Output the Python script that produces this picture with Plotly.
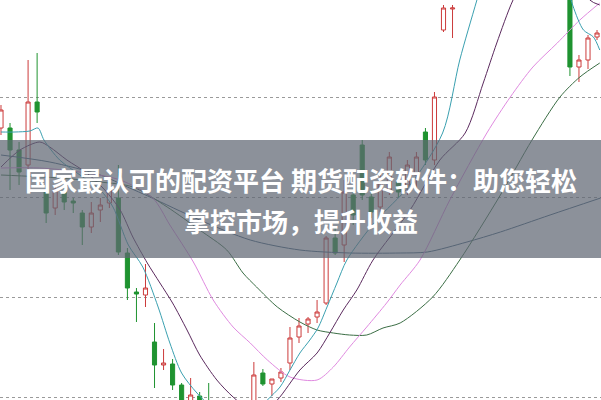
import plotly.graph_objects as go

# ---- candle data (index, open, high, low, close) ----
idx = list(range(67))
opens = [56.9, 56.9, 54.7, 53.2, 59.5, 50.5, 48.9, 50.5, 49.6, 48.4,
         47.0, 48.7, 49.4, 49.9, 44.4, 40.5, 40.2, 35.5, 33.2, 33.3,
         31.2, 27.7, 30.1, 28.7, 26.2, 27.7, 25.7, 26.7, 27.7, 32.4,
         31.3, 31.9, 33.4, 36.0, 37.3, 38.0, 39.4, 45.9, 45.2, 50.2,
         55.2, 50.0, 49.0, 50.7, 51.5, 51.2, 52.2, 56.5, 53.7, 66.7,
         68.8, 70.5, 71.5, 73.5, 75.0, 73.0, 76.5, 78.5, 77.0, 80.5,
         82.0, 80.0, 78.0, 75.0, 63.0, 63.7, 66.0]
highs = [59.2, 57.4, 55.5, 63.7, 64.4, 50.9, 51.2, 51.2, 49.9, 48.7,
         49.5, 49.9, 51.4, 53.2, 44.9, 40.9, 43.3, 37.4, 34.8, 33.8,
         31.4, 31.9, 30.5, 31.4, 28.2, 28.5, 27.9, 28.7, 33.5, 32.8,
         31.8, 32.9, 37.0, 37.9, 38.0, 39.7, 46.1, 46.9, 51.7, 51.2,
         55.7, 50.7, 52.2, 54.5, 51.9, 53.7, 54.5, 56.9, 60.5, 69.2,
         69.2, 72.0, 74.0, 76.0, 76.0, 77.0, 79.0, 80.0, 81.0, 83.0,
         83.5, 82.0, 79.5, 76.0, 64.2, 66.2, 66.7]
lows = [56.2, 50.7, 51.2, 52.7, 57.4, 47.4, 48.2, 48.7, 48.4, 45.2,
        46.4, 47.5, 48.9, 44.2, 39.7, 37.5, 39.0, 30.9, 32.7, 30.7,
        27.2, 27.2, 26.7, 25.7, 25.2, 24.7, 24.9, 26.1, 27.2, 31.1,
        30.1, 31.5, 32.7, 35.4, 36.4, 37.4, 39.2, 44.2, 43.5, 47.2,
        49.7, 47.9, 48.5, 50.2, 49.9, 50.2, 50.5, 53.2, 53.2, 66.5,
        65.9, 69.9, 71.0, 72.8, 72.5, 72.5, 75.8, 76.0, 76.5, 79.5,
        79.0, 77.0, 75.0, 62.1, 61.5, 62.8, 65.7]
closes = [58.7, 54.7, 52.5, 59.5, 58.5, 48.4, 50.7, 49.5, 49.4, 47.0,
          48.4, 49.2, 50.7, 44.5, 40.9, 40.3, 40.9, 33.2, 33.4, 31.2,
          28.2, 30.2, 27.7, 26.7, 27.7, 25.7, 27.2, 28.2, 32.2, 31.3,
          31.8, 32.5, 35.9, 37.1, 37.8, 38.5, 45.9, 44.4, 50.5, 48.2,
          50.2, 48.5, 51.4, 54.0, 50.5, 53.2, 54.0, 53.7, 60.0, 68.9,
          68.9, 71.5, 73.5, 75.0, 73.0, 76.5, 78.5, 77.0, 80.5, 82.0,
          80.0, 78.0, 76.0, 63.0, 63.7, 65.9, 66.4]

# ---- moving-average lines ----
ma5_x = [0, 1.55, 3.2, 4.1, 4.76, 6.5, 8.75, 11, 12.4, 14.1, 15.7, 17.4, 18.7, 20, 21.7,
         23.7, 25.9, 28.1, 29.5, 30.9, 32, 33.1, 34.2, 35.1, 36.1, 37.2, 38.3, 41.4,
         45.3, 48.9, 50.8, 52.7, 55.3, 58.6, 61.4, 63.3, 64.5, 65.6, 66.3]
ma5_y = [56.5, 56.5, 56.6, 56.9, 55.7, 53.7, 52.2, 50.7, 49.0, 45.2, 43.0, 39.0, 35.4, 32.4, 30.4,
         28.7, 27.7, 28.2, 29.7, 31.0, 32.7, 34.4, 35.7, 36.9, 39.0, 41.4, 43.7, 47.5,
         51.2, 56.4, 63.7, 69.7, 77.7, 81.7, 75.7, 69.2, 66.7, 66.0, 64.7]

ma10_x = [0, 2.1, 4.3, 5.4, 7.3, 9.5, 11.5, 13.2, 14.6, 16.2, 17.6, 19, 20.6, 22, 23.9,
          25.7, 27.6, 29.2, 30.6, 33.1, 35, 36.4, 37.9, 39.4, 41.2, 45.3, 48.6, 51.4,
          53.4, 54.9, 56.7, 59.7, 63, 65.2, 66.3]
ma10_y = [53.0, 54.7, 55.5, 55.0, 53.7, 52.4, 50.7, 48.7, 46.0, 43.4, 41.4, 39.4, 36.7, 34.2, 31.7,
          30.0, 28.7, 28.7, 29.7, 32.7, 34.4, 36.4, 38.7, 40.7, 43.7, 48.7, 53.7, 56.4,
          61.4, 65.4, 69.7, 74.7, 73.7, 69.7, 69.2]

ma20_x = [0, 4.3, 8.7, 13.2, 16.8, 18.7, 21.3, 23.5, 25.7, 27.6, 29.5, 32, 35, 36.8, 38.6,
          40.5, 42.7, 44.2, 46.4, 49.7, 53.8, 56.4, 58.9, 61.6, 64.1, 66.3]
ma20_y = [52.9, 52.9, 52.5, 51.7, 49.9, 47.2, 43.5, 39.7, 37.0, 35.4, 33.7, 32.0, 31.7, 33.0, 35.0,
          37.0, 39.4, 41.2, 43.7, 49.7, 56.4, 60.0, 63.0, 65.4, 67.7, 69.4]

ma30_x = [0, 6.5, 11, 14.6, 18.4, 22, 25, 26.8, 28.3, 30.6, 33.1, 35, 36.8, 38.6, 40.5,
          42.3, 44.2, 47.8, 50.8, 55.3, 58.8, 61.9, 64.1, 66.3]
ma30_y = [52.2, 51.9, 51.5, 51.0, 49.0, 46.7, 44.7, 42.4, 41.0, 39.0, 37.5, 36.7, 36.4, 36.2, 36.2,
          36.9, 37.4, 40.0, 43.7, 50.2, 55.7, 60.0, 62.0, 63.4]

ma60_x = [0, 5.4, 11, 14, 16.5, 22, 27.6, 33.1, 38.6, 44.2, 47.2, 51.6, 55.3, 60.8, 66.4]
ma60_y = [54.2, 53.5, 52.2, 51.0, 50.0, 47.7, 45.7, 44.7, 44.4, 44.4, 44.5, 45.5, 46.5, 48.2, 49.9]

banner_line1 = "国家最认可的配资平台 期货配资软件：助您轻松"
banner_line2 = "掌控市场，提升收益"

RED = "#cc3b3b"
GREEN = "#1f9330"

fig = go.Figure()
fig.add_trace(go.Candlestick(
    x=idx, open=opens, high=highs, low=lows, close=closes,
    increasing=dict(line=dict(color=RED, width=1), fillcolor="white"),
    decreasing=dict(line=dict(color=GREEN, width=1), fillcolor=GREEN),
    whiskerwidth=0, showlegend=False, hoverinfo="skip"))

for xs, ys, col in [(ma60_x, ma60_y, "#3f5f7a"),
                    (ma30_x, ma30_y, "#3b6e45"),
                    (ma20_x, ma20_y, "#e08ae0"),
                    (ma10_x, ma10_y, "#5b2a5e"),
                    (ma5_x, ma5_y, "#3aa0b0")]:
    fig.add_trace(go.Scatter(x=xs, y=ys, mode="lines",
                             line=dict(color=col, width=1, shape="spline", smoothing=0.8),
                             showlegend=False, hoverinfo="skip"))

fig.add_shape(type="rect", xref="paper", yref="paper", x0=0, x1=1, y0=0.355, y1=0.65,
              fillcolor="rgba(95,102,115,0.72)", line=dict(width=0), layer="above")

for txt, yp in [(banner_line1, 1 - 180 / 400), (banner_line2, 1 - 220 / 400)]:
    fig.add_annotation(text="<b>" + txt + "</b>", xref="paper", yref="paper",
                       x=0.5, y=yp, xanchor="center", yanchor="middle", showarrow=False,
                       font=dict(family="Noto Sans CJK SC", size=26, color="white"))

fig.update_layout(
    width=601, height=400, margin=dict(l=0, r=0, t=0, b=0),
    paper_bgcolor="white", plot_bgcolor="white",
    xaxis=dict(range=[-0.11, 66.44], visible=False, rangeslider=dict(visible=False)),
    yaxis=dict(range=[29.7, 69.7], tick0=0, dtick=10, showgrid=True, gridcolor="#9a9a9a",
               griddash="dot", gridwidth=1, zeroline=False, showticklabels=False,
               showline=False, ticks=""),
    boxgap=0.35,
)

fig.write_html("out.html", config={"displayModeBar": False},
               post_script="document.body.style.margin='0';")
